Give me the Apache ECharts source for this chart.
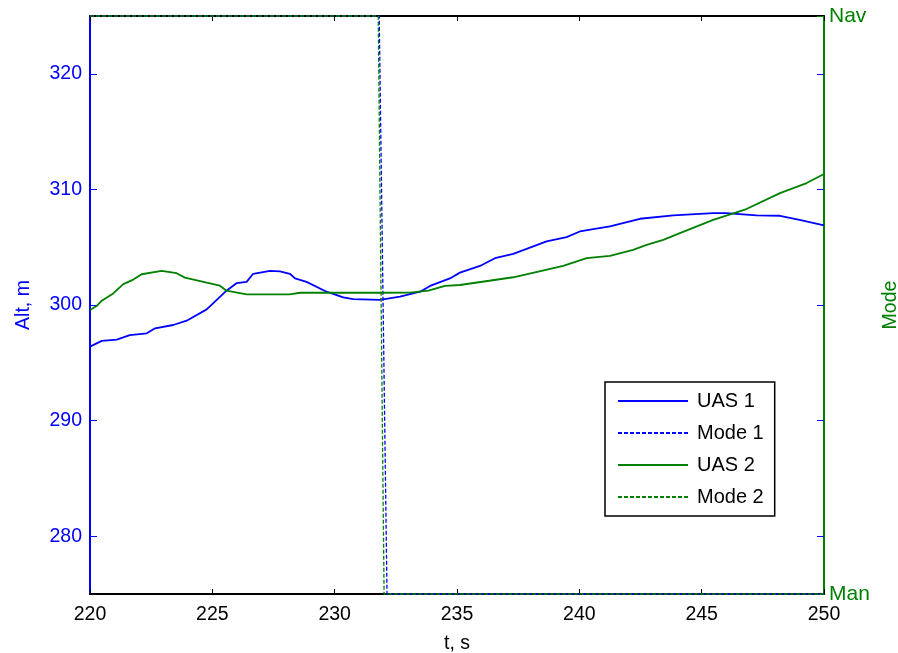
<!DOCTYPE html>
<html>
<head>
<meta charset="utf-8">
<script src="https://cdn.jsdelivr.net/npm/echarts@6/dist/echarts.min.js"></script>
<style>html,body{margin:0;padding:0;background:#fff}#c{width:898px;height:653px}</style>
</head>
<body>
<div id="c"></div>
<script>
var seriesNames = ['UAS 1', 'Mode 1', 'UAS 2', 'Mode 2'];
var altTicks = [280, 290, 300, 310, 320];
var modeLabels = ['Man', 'Nav'];

var t1 = [220,220.48,221.09,221.63,222.32,222.66,223.4,223.95,224.77,225.58,226.0,226.4,226.67,227.36,227.76,228.17,228.38,228.85,229.67,230.35,230.76,231.85,232.67,233.49,233.9,234.71,235.12,235.94,236.55,237.3,238.66,239.48,240.02,241.25,242.48,243.84,245.47,246.0,247.24,248.2,249.0,250];
var alt1 = [296.4,296.9,297.0,297.4,297.55,297.98,298.27,298.64,299.62,301.24,301.9,302.0,302.7,302.95,302.9,302.7,302.3,302.0,301.15,300.66,300.5,300.45,300.72,301.15,301.65,302.3,302.8,303.38,304.05,304.42,305.5,305.87,306.36,306.8,307.46,307.75,307.95,307.95,307.75,307.72,307.37,306.88];

var t2 = [220,220.27,220.48,220.95,221.36,221.77,222.11,222.93,223.54,223.88,224.77,225.31,225.58,226.4,228.17,228.58,231.85,233.08,233.83,234.51,235.12,237.3,239.34,240.3,241.25,242.2,242.75,243.43,244.11,245.47,246.83,248.2,249.29,250];
var alt2 = [299.57,299.91,300.37,301.0,301.8,302.2,302.66,302.95,302.75,302.37,301.93,301.67,301.24,300.92,300.92,301.06,301.06,301.07,301.24,301.65,301.73,302.4,303.38,304.05,304.25,304.77,305.2,305.64,306.22,307.37,308.3,309.68,310.55,311.33];

var modeT1 = [220, 231.82, 232.14, 250];
var mode1 = [1, 1, 0, 0];
var modeT2 = [220, 231.78, 232.02, 250];
var mode2 = [1, 1, 0, 0];

function pairs(xs, ys){ return xs.map(function(x,i){ return [x, ys[i]]; }); }

var BLUE = '#0000ff', GREEN = '#008000', FONT = 'Liberation Sans, Arial, sans-serif';

var chart = echarts.init(document.getElementById('c'), null, {renderer:'canvas'});
chart.setOption({
  animation: false,
  backgroundColor: '#ffffff',
  grid: {left: 90, right: 74, top: 16, bottom: 59, containLabel: false, outerBoundsMode: 'none'},
  legend: {
    orient: 'vertical', left: 605, top: 382,
    data: seriesNames,
    itemWidth: 70, itemHeight: 14, itemGap: 12,
    padding: [9, 11, 9, 12],
    borderColor: '#000', borderWidth: 1.5, backgroundColor: '#fff',
    itemStyle: {color: 'transparent', borderWidth: 0, opacity: 0},
    textStyle: {fontFamily: FONT, fontSize: 20, color: '#000', padding: [0,0,0,4]}
  },
  xAxis: [{
    type: 'value', position: 'bottom', min: 220, max: 250, interval: 5,
    axisLine: {show: true, onZero: false, lineStyle: {color: '#000', width: 2}},
    axisTick: {show: true, inside: true, length: 5, lineStyle: {color: '#000'}},
    axisLabel: {fontFamily: FONT, fontSize: 19.5, color: '#000', margin: 11},
    splitLine: {show: false},
    name: 't, s', nameLocation: 'middle', nameGap: 40,
    nameTextStyle: {fontFamily: FONT, fontSize: 19.5, color: '#000'}
  }, {
    type: 'value', position: 'top', min: 220, max: 250, interval: 5,
    axisLine: {show: true, onZero: false, lineStyle: {color: '#000', width: 2}},
    axisTick: {show: true, inside: true, length: 5, lineStyle: {color: '#000'}},
    axisLabel: {show: false}, splitLine: {show: false}
  }],
  yAxis: [{
    type: 'value', position: 'left', min: 275, max: 325, interval: 5,
    axisLine: {show: true, onZero: false, lineStyle: {color: BLUE, width: 2}},
    axisTick: {show: true, inside: true, length: 7, customValues: altTicks, lineStyle: {color: BLUE}},
    axisLabel: {fontFamily: FONT, fontSize: 19.5, color: BLUE, margin: 8, customValues: altTicks},
    splitLine: {show: false},
    name: 'Alt, m', nameLocation: 'middle', nameGap: 56,
    nameTextStyle: {fontFamily: FONT, fontSize: 19.5, color: BLUE}
  }, {
    type: 'value', position: 'right', min: 0, max: 1, interval: 1,
    axisLine: {show: true, onZero: false, lineStyle: {color: GREEN, width: 2}},
    axisTick: {show: true, inside: true, length: 7, lineStyle: {color: GREEN}},
    axisLabel: {fontFamily: FONT, fontSize: 21, color: GREEN, margin: 5,
      formatter: function(v){ return modeLabels[v]; }},
    splitLine: {show: false},
    name: 'Mode', nameLocation: 'middle', nameGap: 52,
    nameTextStyle: {fontFamily: FONT, fontSize: 19.5, color: GREEN}
  }, {
    type: 'value', position: 'right', min: 275, max: 325, interval: 5,
    axisLine: {show: false},
    axisTick: {show: true, inside: true, length: 7, customValues: altTicks, lineStyle: {color: BLUE}},
    axisLabel: {show: false}, splitLine: {show: false}
  }],
  series: [{
    name: seriesNames[0], type: 'line', xAxisIndex: 0, yAxisIndex: 0,
    data: pairs(t1, alt1), symbol: 'none', color: BLUE,
    lineStyle: {color: BLUE, width: 1.8}
  }, {
    name: seriesNames[1], type: 'line', xAxisIndex: 0, yAxisIndex: 1, clip: false,
    data: pairs(modeT1, mode1), symbol: 'none', color: BLUE,
    lineStyle: {color: BLUE, width: 1.3, type: [4, 2]}
  }, {
    name: seriesNames[2], type: 'line', xAxisIndex: 0, yAxisIndex: 0,
    data: pairs(t2, alt2), symbol: 'none', color: GREEN,
    lineStyle: {color: GREEN, width: 1.8}
  }, {
    name: seriesNames[3], type: 'line', xAxisIndex: 0, yAxisIndex: 1, clip: false,
    data: pairs(modeT2, mode2), symbol: 'none', color: GREEN,
    lineStyle: {color: GREEN, width: 1.3, type: [4, 2]}
  }]
});
</script>
</body>
</html>
